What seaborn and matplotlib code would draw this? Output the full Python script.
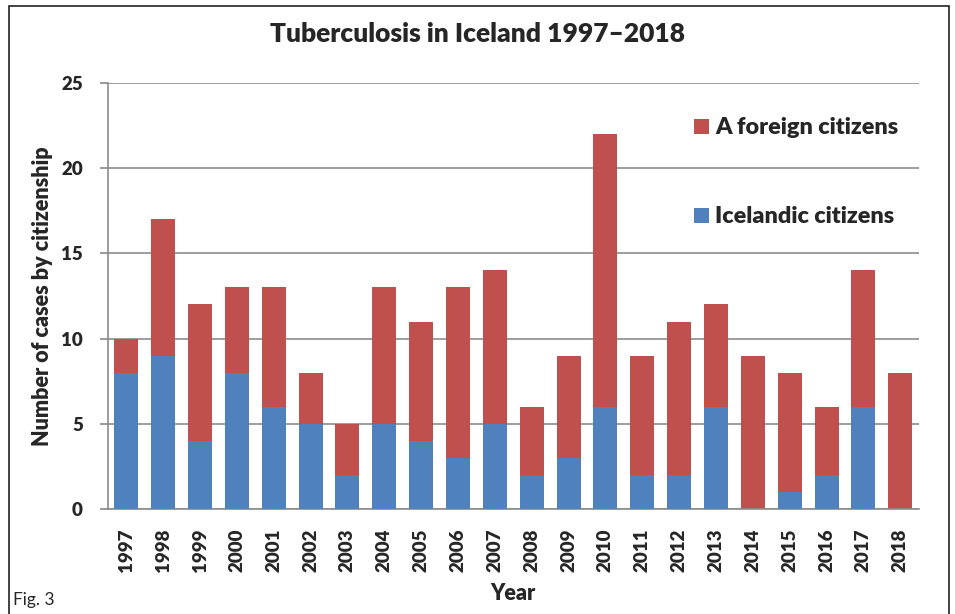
import matplotlib
matplotlib.use('Agg')
import matplotlib.pyplot as plt
import seaborn as sns
import pandas as pd
from matplotlib.patches import Rectangle

# values
years = ['1997', '1998', '1999', '2000', '2001', '2002', '2003', '2004', '2005', '2006', '2007',
         '2008', '2009', '2010', '2011', '2012', '2013', '2014', '2015', '2016', '2017', '2018']
icelandic = [8, 9, 4, 8, 6, 5, 2, 5, 4, 3, 5, 2, 3, 6, 2, 2, 6, 0, 1, 2, 6, 0]
foreign = [2, 8, 8, 5, 7, 3, 3, 8, 7, 10, 9, 4, 6, 16, 7, 9, 6, 9, 7, 4, 8, 8]

RED = '#C0504D'
BLUE = '#4F81BD'
BOLD = 'heavy'

sns.set_theme(style='white')
plt.rcParams['font.family'] = ['Lato', 'DejaVu Sans']

df = pd.DataFrame({'Year': years, 'Icelandic': icelandic, 'Foreign': foreign})
df['Total'] = df['Icelandic'] + df['Foreign']

fig = plt.figure(figsize=(9.55, 6.14), dpi=100)
ax = fig.add_axes([0.113, 0.171, 0.849, 0.694])

# stacked bars: total (red) behind, Icelandic (blue) in front
sns.barplot(data=df, x='Year', y='Total', color=RED, saturation=1, width=0.65,
            linewidth=0, ax=ax, zorder=2)
sns.barplot(data=df, x='Year', y='Icelandic', color=BLUE, saturation=1, width=0.65,
            linewidth=0, ax=ax, zorder=3)

ax.set_ylim(0, 25)
ax.set_yticks(range(0, 26, 5))
ax.set_xlim(-0.5, len(years) - 0.5)
ax.yaxis.grid(True, color='#8c8c8c', linewidth=1.2, zorder=0)
ax.set_axisbelow(True)
for s in ['top', 'right']:
    ax.spines[s].set_visible(False)
ax.spines['left'].set_color('#8c8c8c')
ax.spines['bottom'].set_color('#8c8c8c')
ax.spines['left'].set_linewidth(1.2)
ax.spines['bottom'].set_linewidth(1.2)

ax.tick_params(axis='y', left=True, length=6, color='#8c8c8c', labelsize=13.5, pad=12)
ax.tick_params(axis='x', bottom=False, labelsize=13.5, pad=8)
for lab in ax.get_xticklabels():
    lab.set_rotation(90)
    lab.set_fontweight(BOLD)
for lab in ax.get_yticklabels():
    lab.set_fontweight(BOLD)

ax.set_xlabel('Year', fontsize=15.5, fontweight=BOLD, labelpad=8)
ax.set_ylabel('Number of cases by citizenship', fontsize=15.5, fontweight=BOLD, labelpad=6)

fig.text(0.5, 0.945, 'Tuberculosis in Iceland 1997\u20132018', ha='center', va='center',
         fontsize=19, fontweight=BOLD)

# legend entries placed like the original
fig.patches.append(Rectangle((0.727, 0.782), 0.015, 0.024, transform=fig.transFigure,
                             facecolor=RED, edgecolor='none', figure=fig))
fig.text(0.749, 0.793, 'A foreign citizens', ha='left', va='center', fontsize=16.8, fontweight=BOLD)
fig.patches.append(Rectangle((0.727, 0.637), 0.015, 0.024, transform=fig.transFigure,
                             facecolor=BLUE, edgecolor='none', figure=fig))
fig.text(0.749, 0.647, 'Icelandic citizens', ha='left', va='center', fontsize=16.8, fontweight=BOLD)

fig.text(0.014, 0.022, 'Fig. 3', ha='left', va='center', fontsize=12.5)

# outer frame
fig.patches.append(Rectangle((0.009, -0.01), 0.985, 1.0, transform=fig.transFigure,
                             facecolor='none', edgecolor='#222222', linewidth=1.2, figure=fig))

fig.savefig('out.png', dpi=100)
